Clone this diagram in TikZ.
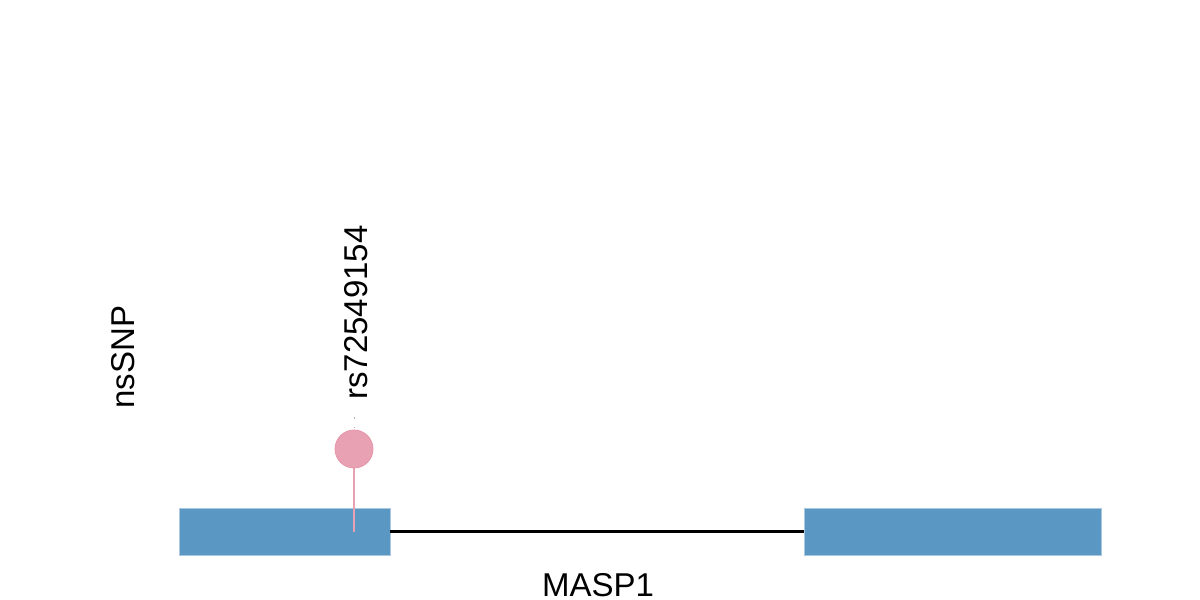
\documentclass[tikz,border=0pt]{standalone}
\usepackage{fontspec}
\setmainfont{Liberation Sans}
\definecolor{exonblue}{HTML}{5B97C3}
\definecolor{exonedge}{HTML}{A9C8E0}
\definecolor{snppink}{HTML}{E8A1B3}
\definecolor{snpedge}{HTML}{E596AA}
\begin{document}
\begin{tikzpicture}[x=1pt,y=-1pt,
  exon/.style={fill=exonblue,draw=exonedge,line width=0.8pt,inner sep=0pt,outer sep=0pt,minimum height=47pt},
  lbl/.style={font=\fontsize{33}{38}\selectfont,inner sep=0pt},
  snp/.style={circle,fill=snppink,draw=snpedge,line width=0.8pt,minimum size=38pt,inner sep=0pt}]
\useasboundingbox (0,0) rectangle (1200,600);
\node[exon,minimum width=211pt] (e1) at (284.5,531.5) {};
\node[exon,minimum width=297pt] (e2) at (952.5,531.5) {};
\draw[line width=2.2pt] (e1.east) -- (e2.west);
\coordinate (stembot) at (354,532);
\node[snp] (c1) at (354,449) {};
\draw[snppink,line width=1.8pt] (c1.south) -- (stembot);
\coordinate (dtop) at (354,417);
\coordinate (dbot) at (354,430);
\draw[gray!60,line width=0.8pt,dash pattern=on 1.5pt off 8pt] (dtop) -- (dbot);
\node[lbl,rotate=90,anchor=west] (rs) at (356,400) {rs72549154};
\node[lbl,rotate=90] (ns) at (123,357) {nsSNP};
\node[lbl,anchor=base] (gene) at (598,596) {MASP1};
\end{tikzpicture}
\end{document}
